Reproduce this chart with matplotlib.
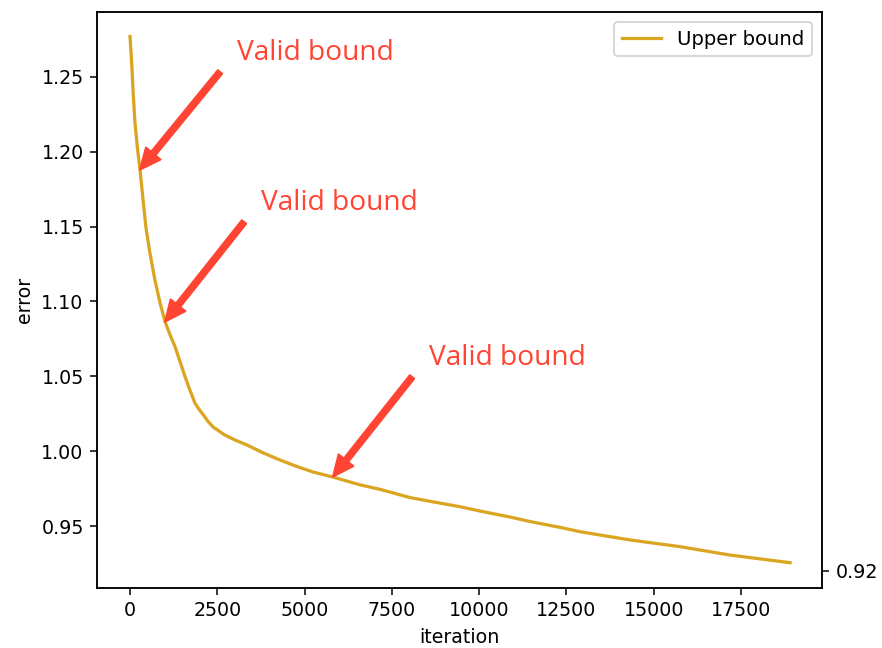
import matplotlib
matplotlib.use("Agg")
import matplotlib.pyplot as plt

# values
iters = [0, 48, 96, 143, 210, 286, 382, 458, 573, 716, 860, 1003, 1145, 1289,
         1430, 1575, 1720, 1862, 1960, 2091, 2230, 2377, 2700, 3000, 3351,
         3800, 4296, 4750, 5241, 5814, 6588, 7160, 8020, 8593, 9452, 10025,
         10884, 11457, 12316, 12889, 14321, 15753, 17185, 18904]
err = [1.277, 1.259, 1.237, 1.219, 1.203, 1.188, 1.166, 1.149, 1.132, 1.114,
       1.099, 1.0865, 1.0778, 1.0698, 1.0600, 1.0498, 1.0405, 1.032, 1.0285,
       1.0245, 1.0200, 1.0162, 1.0110, 1.0075, 1.0041, 0.9990, 0.9941,
       0.9900, 0.9861, 0.9827, 0.9775, 0.9745, 0.9690, 0.9665, 0.9629,
       0.9600, 0.9560, 0.9530, 0.9491, 0.9462, 0.9407, 0.9362, 0.9306, 0.9255]

note_text = "Valid bound"
note_heads = [(286, 1.188), (1003, 1.0865), (5814, 0.983)]
note_tails = [(2578, 1.2533), (3265, 1.1531), (8077, 1.0496)]
note_pos = [(3065, 1.2614), (3752, 1.1611), (8564, 1.0576)]
end_tick = 0.92

red = "#ff4433"

fig = plt.figure(figsize=(882 / 137, 648 / 137), dpi=137)
ax = fig.add_axes([0.110, 0.0926, 0.822, 0.889])
ax.plot(iters, err, color="goldenrod", linewidth=1.7, label="Upper bound")
ax.set_xlim(-945, 19820)
ax.set_ylim(0.9086, 1.2934)
ax.set_xticks(range(0, 17501, 2500))
ax.set_yticks([0.95, 1.00, 1.05, 1.10, 1.15, 1.20, 1.25])
ax.set_xlabel("iteration")
ax.set_ylabel("error")
ax.legend(loc="upper right", fontsize=10.3)

for head, tail, pos in zip(note_heads, note_tails, note_pos):
    ax.annotate("", xy=head, xytext=tail,
                arrowprops=dict(facecolor=red, edgecolor=red, width=3,
                                headwidth=10, headlength=11, shrink=0))
    ax.text(pos[0], pos[1], note_text, color=red, fontsize=14.8,
            family=["Open Sans", "DejaVu Sans"], ha="left", va="baseline")

ax2 = ax.twinx()
ax2.set_ylim(ax.get_ylim())
ax2.set_yticks([end_tick])
ax2.set_yticklabels(["%.2f" % end_tick])

fig.savefig("out.png", dpi=137)
